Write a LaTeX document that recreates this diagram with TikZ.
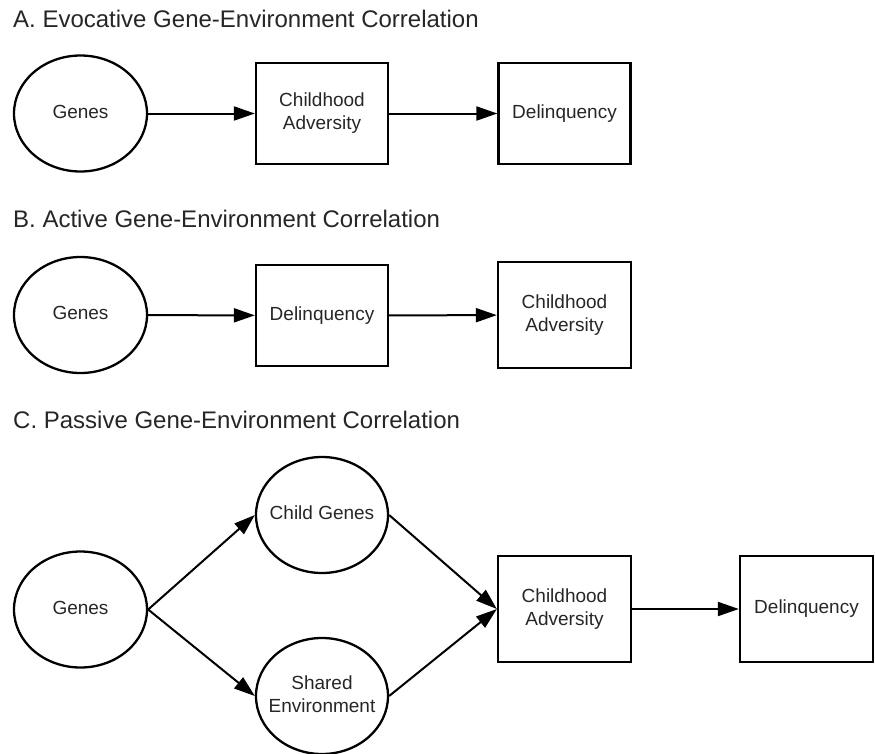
\documentclass[tikz,border=0pt]{standalone}
\usepackage{fontspec}
\setmainfont{Liberation Sans}
\usetikzlibrary{shapes.geometric,arrows.meta}
\newcommand{\ovaltext}[1]{\makebox[0pt]{\begin{tabular}{@{}c@{}}#1\end{tabular}}}
\begin{document}
\begin{tikzpicture}[x=1pt,y=-1pt,
  titletext/.style={anchor=base west,inner sep=0pt,font=\fontsize{24}{28}\selectfont,text=black!85},
  oval/.style={ellipse,draw,line width=2.3pt,minimum width=133pt,minimum height=116pt,inner sep=0pt,align=center,font=\fontsize{19}{23}\selectfont,text=black!85},
  boxnode/.style={rectangle,draw,line width=2.3pt,minimum width=132pt,minimum height=101pt,inner sep=0pt,align=center,font=\fontsize{19}{23}\selectfont,text=black!85},
  link/.style={line width=2pt,-{Triangle[length=21pt,width=14pt]}}]
\useasboundingbox (0,0) rectangle (875,753);
% A
\node[titletext] (ta) at (13,27) {A. Evocative Gene-Environment Correlation};
\node[oval] (ga) at (80.5,113.5) {\ovaltext{Genes}};
\node[boxnode] (ca) at (322,113.5) {Childhood\\Adversity};
\node[boxnode] (da) at (564.5,113.5) {Delinquency};
\draw[link] (ga) -- (ca);
\draw[link] (ca) -- (da);
% B
\node[titletext] (tb) at (13,227) {B. Active Gene-Environment Correlation};
\node[oval] (gb) at (80.5,315) {\ovaltext{Genes}};
\node[boxnode] (db) at (322,315.5) {Delinquency};
\node[boxnode,minimum width=133pt,minimum height=106pt] (cb) at (564.5,315) {Childhood\\Adversity};
\draw[link] (gb) -- (db);
\draw[link] (db) -- (cb);
% C
\node[titletext] (tc) at (13,428) {C. Passive Gene-Environment Correlation};
\node[oval] (gc) at (80.5,609.5) {\ovaltext{Genes}};
\node[oval,minimum width=132pt] (cg) at (322,515) {\ovaltext{Child Genes}};
\node[oval,minimum width=132pt] (se) at (322,696) {\ovaltext{Shared\\Environment}};
\node[boxnode,minimum width=133pt,minimum height=106pt] (cc) at (564.5,609) {Childhood\\Adversity};
\node[boxnode,minimum width=133pt,minimum height=106pt] (dc) at (806.5,609) {Delinquency};
\draw[link] (gc.east) -- (cg.west);
\draw[link] (gc.east) -- (se.west);
\draw[link] (cg.east) -- (cc.west);
\draw[link] (se.east) -- (cc.west);
\draw[link] (cc) -- (dc);
\end{tikzpicture}
\end{document}
